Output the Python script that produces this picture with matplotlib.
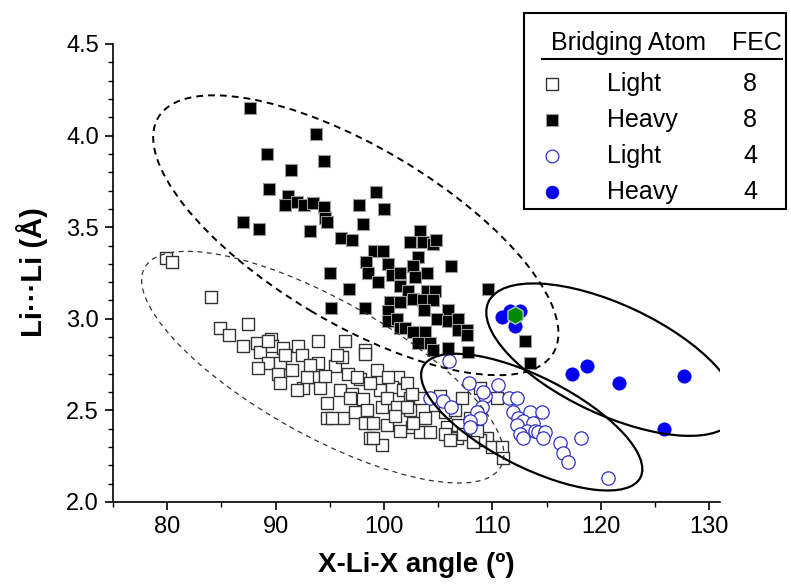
import matplotlib
matplotlib.use("Agg")
import matplotlib.pyplot as plt
import matplotlib.transforms as mtransforms
from matplotlib.patches import Ellipse, Rectangle
from matplotlib.lines import Line2D
from matplotlib.ticker import MultipleLocator, FormatStrFormatter

plt.rcParams['font.family'] = ['Liberation Sans', 'DejaVu Sans']

# Light bridging atom, FEC 8 (open squares)
light8_x = [79.92, 80.47, 84.07, 84.90, 85.73, 87.48, 87.02, 88.31, 88.59, 89.60,
            89.70, 89.33, 88.40, 90.43, 90.71, 90.25, 90.43, 91.54, 92.09, 92.46,
            93.94, 93.94, 93.48, 92.56, 94.12, 92.00, 94.77, 94.77, 96.43, 98.28,
            95.51, 96.71, 97.81, 99.38, 100.58, 101.32, 95.97, 97.08, 98.09, 99.66,
            100.77, 101.78, 102.43, 103.35, 96.25, 97.35, 98.28, 99.84, 100.30, 98.74,
            99.84, 102.43, 102.61, 103.35, 104.27, 103.81, 105.84, 106.76, 107.22, 108.88,
            110.45, 106.85, 109.53, 108.88, 109.99, 110.91, 111.01, 105.66, 106.12, 107.32,
            108.61, 108.24, 92.92, 97.54, 98.46, 98.74, 99.01, 100.30, 100.40, 99.01,
            101.23, 102.15, 102.15, 102.61, 102.70, 96.15, 95.69, 90.90, 93.20, 94.59,
            96.89, 101.04, 101.50, 104.73, 105.66, 107.96, 105.19, 106.58, 98.28, 95.20,
            89.33]
light8_y = [3.33, 3.31, 3.12, 2.95, 2.91, 2.97, 2.85, 2.87, 2.82, 2.89,
            2.85, 2.76, 2.73, 2.76, 2.84, 2.70, 2.65, 2.72, 2.85, 2.80,
            2.88, 2.76, 2.68, 2.62, 2.62, 2.61, 2.54, 2.46, 2.88, 2.83,
            2.74, 2.70, 2.67, 2.72, 2.65, 2.68, 2.61, 2.59, 2.56, 2.61,
            2.63, 2.61, 2.57, 2.57, 2.46, 2.49, 2.43, 2.52, 2.42, 2.35,
            2.31, 2.50, 2.41, 2.38, 2.38, 2.46, 2.41, 2.35, 2.57, 2.62,
            2.57, 2.42, 2.35, 2.34, 2.30, 2.30, 2.24, 2.37, 2.34, 2.37,
            2.39, 2.33, 2.68, 2.68, 2.50, 2.65, 2.43, 2.57, 2.68, 2.35,
            2.52, 2.52, 2.65, 2.59, 2.43, 2.79, 2.80, 2.80, 2.75, 2.69,
            2.57, 2.47, 2.39, 2.53, 2.49, 2.46, 2.58, 2.50, 2.81, 2.46,
            2.88]

# Heavy bridging atom, FEC 8 (filled squares)
heavy8_x = [87.67, 93.75, 89.24, 94.49, 91.45, 89.42, 99.29, 91.17, 90.90, 92.00,
            92.65, 93.48, 94.49, 94.59, 94.77, 97.72, 100.03, 98.09, 87.02, 88.50,
            93.20, 96.06, 97.08, 103.35, 102.43, 103.63, 104.55, 104.83, 99.11, 99.94,
            98.37, 100.40, 103.16, 102.70, 106.21, 95.05, 98.55, 99.48, 100.77, 101.50,
            102.89, 104.00, 101.50, 102.24, 96.80, 109.62, 104.00, 104.73, 102.70, 103.63,
            104.55, 100.58, 101.50, 95.14, 98.28, 105.93, 103.72, 104.92, 100.40, 100.40,
            101.23, 101.50, 101.97, 105.93, 106.85, 106.85, 107.68, 102.70, 103.81, 107.68,
            103.16, 104.27, 104.55, 105.93, 107.78, 113.04, 113.50]
heavy8_y = [4.15, 4.01, 3.90, 3.86, 3.81, 3.71, 3.69, 3.67, 3.62, 3.64,
            3.62, 3.63, 3.61, 3.55, 3.53, 3.62, 3.60, 3.52, 3.53, 3.49,
            3.48, 3.44, 3.43, 3.48, 3.42, 3.42, 3.41, 3.43, 3.37, 3.37,
            3.31, 3.30, 3.34, 3.29, 3.29, 3.25, 3.25, 3.20, 3.24, 3.25,
            3.23, 3.25, 3.18, 3.15, 3.16, 3.16, 3.15, 3.15, 3.11, 3.10,
            3.10, 3.09, 3.09, 3.06, 3.06, 3.05, 3.05, 3.00, 3.04, 2.99,
            3.00, 2.95, 2.95, 2.99, 3.00, 2.94, 2.94, 2.93, 2.93, 2.91,
            2.87, 2.87, 2.83, 2.84, 2.82, 2.88, 2.76]

# Light bridging atom, FEC 4 (open circles)
light4_x = [106.02, 107.87, 109.35, 109.16, 110.54, 111.56, 112.30, 104.27, 105.47, 106.21,
            109.07, 108.61, 108.88, 107.96, 107.96, 111.93, 112.39, 113.50, 114.60, 112.85,
            113.77, 112.30, 113.22, 113.96, 114.23, 114.88, 112.57, 114.70, 112.85, 116.26,
            116.54, 117.00, 118.20, 120.69]
light4_y = [2.77, 2.65, 2.58, 2.60, 2.64, 2.57, 2.57, 2.57, 2.55, 2.52,
            2.52, 2.49, 2.46, 2.44, 2.41, 2.49, 2.46, 2.49, 2.49, 2.44,
            2.43, 2.42, 2.39, 2.39, 2.38, 2.38, 2.37, 2.35, 2.35, 2.32,
            2.27, 2.22, 2.35, 2.13]

# Heavy bridging atom, FEC 4 (filled circles)
heavy4_x = [110.91, 111.65, 112.57, 112.11, 117.37, 118.75, 121.71, 127.70, 125.86]
heavy4_y = [3.01, 3.04, 3.04, 2.96, 2.70, 2.74, 2.65, 2.69, 2.40]

special_x = [112.11]
special_y = [3.02]

legend_atom = ['Light', 'Heavy', 'Light', 'Heavy']
legend_fec = ['8', '8', '4', '4']

# grouping ellipses: centre in data units, half axes in pixels, tilt in degrees
ell_centres = [(97.40, 3.456), (94.35, 2.736), (113.63, 2.436), (121.00, 2.777)]
ell_half_axes = [(230, 88), (204, 68), (122, 45), (136, 55)]
ell_tilts = [30.8, 29.2, 27.0, 25.1]

W, H = 791, 587
fig = plt.figure(figsize=(W / 100, H / 100), dpi=100)
ax = fig.add_axes([113 / W, 1 - 502 / H, (720 - 113) / W, (502 - 44) / H])

sq = 76
ax.scatter(light8_x, light8_y, s=sq, marker='s', facecolors='white',
           edgecolors='#333333', linewidths=1.0, zorder=2)
ax.scatter(heavy8_x, heavy8_y, s=sq, marker='s', facecolors='black',
           edgecolors='#9a9a9a', linewidths=0.8, zorder=3)
ax.scatter(light4_x, light4_y, s=92, marker='o', facecolors='white',
           edgecolors='#3030c8', linewidths=0.9, zorder=4)
ax.scatter(heavy4_x, heavy4_y, s=92, marker='o', facecolors='#0000ee',
           edgecolors='#0000ee', linewidths=0.5, zorder=5)
ax.scatter(special_x, special_y, s=160, marker='h', facecolors='#008a00',
           edgecolors='#b0c8b0', linewidths=1.0, zorder=6)

styles = [dict(ls=(0, (3.5, 2.6)), lw=1.4, color='black'),
          dict(ls=(0, (4, 3.5)), lw=0.9, color='#333333'),
          dict(ls='-', lw=1.6, color='black'),
          dict(ls='-', lw=1.6, color='black')]
for (cx, cy), (a, b), tilt, st in zip(ell_centres, ell_half_axes, ell_tilts, styles):
    tr = fig.dpi_scale_trans + mtransforms.ScaledTranslation(cx, cy, ax.transData)
    e = Ellipse((0, 0), 2 * a / 100, 2 * b / 100, angle=-tilt, transform=tr,
                fill=False, edgecolor=st['color'], linewidth=st['lw'],
                linestyle=st['ls'], zorder=7)
    ax.add_patch(e)

ax.set_xlim(75, 131)
ax.set_ylim(2.0, 4.5)
ax.xaxis.set_major_locator(MultipleLocator(10))
ax.xaxis.set_minor_locator(MultipleLocator(5))
ax.yaxis.set_major_locator(MultipleLocator(0.5))
ax.yaxis.set_minor_locator(MultipleLocator(0.1))
ax.yaxis.set_major_formatter(FormatStrFormatter('%.1f'))
for s in ['top', 'right']:
    ax.spines[s].set_visible(False)
for s in ['left', 'bottom']:
    ax.spines[s].set_linewidth(1.2)
ax.tick_params(which='major', direction='out', length=6, width=1.2, labelsize=17, pad=4)
ax.tick_params(which='minor', direction='out', length=3.5, width=1.0)

fig.text(416 / W, 1 - 565 / H, 'X-Li-X angle (\u00ba)', ha='center', va='center',
         fontsize=20, fontweight='bold')
fig.text(32 / W, 1 - 272 / H, 'Li\u00b7\u00b7\u00b7Li (\u00c5)', ha='center', va='center',
         fontsize=21, fontweight='bold', rotation=90)

# legend drawn as a small table
fig.add_artist(Rectangle((524 / W, 1 - 209 / H), (786 - 524) / W, (209 - 13) / H,
                         transform=fig.transFigure, fill=False, lw=1.5, ec='black'))
fig.text(551 / W, 1 - 43 / H, 'Bridging Atom', ha='left', va='center', fontsize=18)
fig.text(782 / W, 1 - 43 / H, 'FEC', ha='right', va='center', fontsize=18)
fig.add_artist(Line2D([542 / W, 782 / W], [1 - 59 / H, 1 - 59 / H],
                      transform=fig.transFigure, color='black', lw=1.5))
leg_styles = [dict(marker='s', mfc='white', mec='#333333', ms=8.4, mew=1.0),
              dict(marker='s', mfc='black', mec='#9a9a9a', ms=8.4, mew=0.8),
              dict(marker='o', mfc='white', mec='#3030c8', ms=9.2, mew=0.9),
              dict(marker='o', mfc='#0000ee', mec='#0000ee', ms=9.2, mew=0.5)]
for i, (atom, fec, st) in enumerate(zip(legend_atom, legend_fec, leg_styles)):
    yy = 1 - (84 + 36 * i) / H
    fig.add_artist(Line2D([552 / W], [yy], transform=fig.transFigure, ls='none', **st))
    fig.text(607 / W, yy, atom, ha='left', va='center', fontsize=18)
    fig.text(750 / W, yy, fec, ha='center', va='center', fontsize=18)

fig.savefig('out.png', dpi=100)
